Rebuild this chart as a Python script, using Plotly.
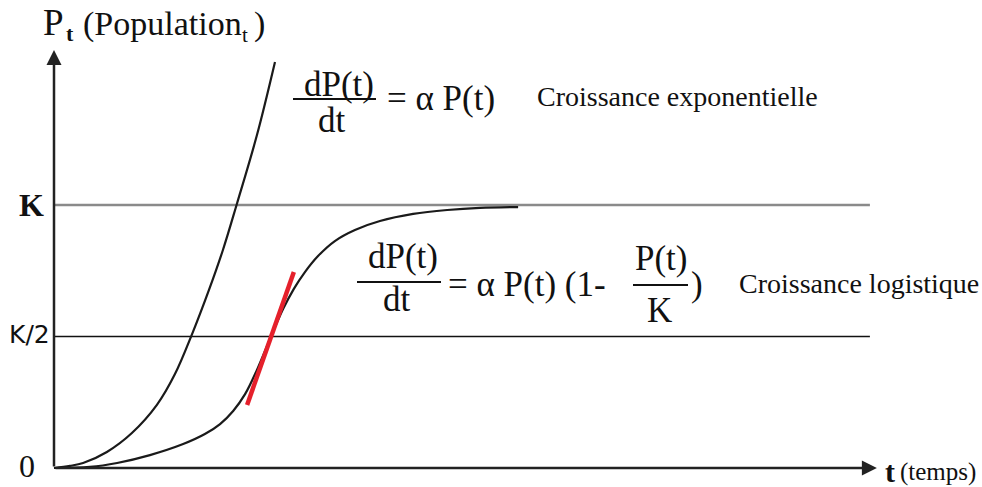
import plotly.graph_objects as go

# Valeurs (t en unités arbitraires, P en fraction de K)
K = 1.0
t_max = 20.07
P_max = 1.589

t_expo = [0, 0.39, 0.71, 1.29, 1.90, 2.51, 2.95, 3.37, 3.78, 4.12, 4.46, 4.95, 5.39]
p_expo = [0, 0.008, 0.019, 0.061, 0.133, 0.240, 0.357, 0.510, 0.677, 0.829, 1.004, 1.266, 1.544]

t_logi = [0, 0.88, 1.54, 2.34, 3.15, 3.68, 4.05, 4.37, 4.66, 4.95, 5.32, 5.59, 5.85,
          6.12, 6.44, 6.85, 7.34, 7.95, 8.76, 9.59, 10.39, 11.32]
p_logi = [0, 0.004, 0.019, 0.049, 0.091, 0.129, 0.167, 0.217, 0.281, 0.373, 0.510,
          0.605, 0.681, 0.745, 0.806, 0.863, 0.905, 0.939, 0.966, 0.981, 0.989, 0.992]

t_tangente = [4.71, 5.85]
p_tangente = [0.240, 0.745]

t_lignes = [0, 19.9]

W, H = 982, 487
SERIF = "Liberation Serif"


def px(x):
    return x / W


def py(y):
    return 1 - y / H


fig = go.Figure()

# lignes K et K/2
fig.add_trace(go.Scatter(x=t_lignes, y=[K, K], mode="lines",
                         line=dict(color="#8a8a8a", width=2.5)))
fig.add_trace(go.Scatter(x=t_lignes, y=[K / 2, K / 2], mode="lines",
                         line=dict(color="#111111", width=1.5)))

# courbes
fig.add_trace(go.Scatter(x=t_expo, y=p_expo, mode="lines",
                         line=dict(color="#1a1a1a", width=2.2, shape="spline", smoothing=1.0)))
fig.add_trace(go.Scatter(x=t_logi, y=p_logi, mode="lines",
                         line=dict(color="#1a1a1a", width=2.2, shape="spline", smoothing=1.0)))
fig.add_trace(go.Scatter(x=t_tangente, y=p_tangente, mode="lines",
                         line=dict(color="#e5202b", width=4.5)))

# axes avec flèches
fig.add_annotation(x=t_max, y=0, ax=0, ay=0, xref="x", yref="y", axref="x", ayref="y",
                   showarrow=True, arrowhead=2, arrowsize=1.2, arrowwidth=2.5,
                   arrowcolor="#222222", text="")
fig.add_annotation(x=0, y=P_max, ax=0, ay=0, xref="x", yref="y", axref="x", ayref="y",
                   showarrow=True, arrowhead=2, arrowsize=1.2, arrowwidth=2.5,
                   arrowcolor="#222222", text="")


def texte(x, y, s, size, family=SERIF, anchor="center", bold=False):
    if bold:
        s = "<b>" + s + "</b>"
    fig.add_annotation(x=px(x), y=py(y), xref="paper", yref="paper", text=s,
                       showarrow=False, xanchor=anchor, yanchor="middle",
                       font=dict(family=family, size=size, color="#111111"))


def barre(x0, x1, y):
    fig.add_shape(type="line", xref="paper", yref="paper",
                  x0=px(x0), x1=px(x1), y0=py(y), y1=py(y),
                  line=dict(color="#111111", width=1.8))


# titre axe vertical
texte(53, 22, "P", 37)
texte(70, 33, "t", 22, bold=True)
texte(81, 24, "(Population", 34, anchor="left")
texte(245, 35, "t", 21)
texte(252, 24, ")", 34, anchor="left")

# étiquettes de l'axe vertical
texte(31, 205, "K", 32, bold=True)
texte(29, 334, "K/2", 25, family="DejaVu Sans")
texte(27, 466, "0", 32)

# axe horizontal
texte(890, 471, "t", 30, bold=True)
texte(898, 472, "(temps)", 25, anchor="left")

# équation exponentielle
texte(339, 84, "dP(t)", 35)
barre(293, 376, 99)
texte(332, 120, "dt", 35)
texte(441, 99, "= α P(t)", 35)
texte(535, 96, "Croissance exponentielle", 28, anchor="left")

# équation logistique
texte(403, 256, "dP(t)", 35)
barre(357, 441, 282)
texte(397, 299, "dt", 35)
texte(527, 284, "= α P(t) (1-", 35)
texte(661, 258, "P(t)", 35)
barre(633, 688, 285)
texte(659, 310, "K", 35)
texte(697, 284, ")", 35)
texte(737, 283, "Croissance logistique", 28, anchor="left")

fig.update_xaxes(visible=False, range=[-54 / 41, (W - 54) / 41], fixedrange=True)
fig.update_yaxes(visible=False, range=[(468 - H) / 263, 468 / 263], fixedrange=True)
fig.update_layout(width=W, height=H, margin=dict(l=0, r=0, t=0, b=0),
                  plot_bgcolor="white", paper_bgcolor="white", showlegend=False)

fig.write_html("out.html", config={"displayModeBar": False},
               post_script="document.body.style.margin = '0px';")
